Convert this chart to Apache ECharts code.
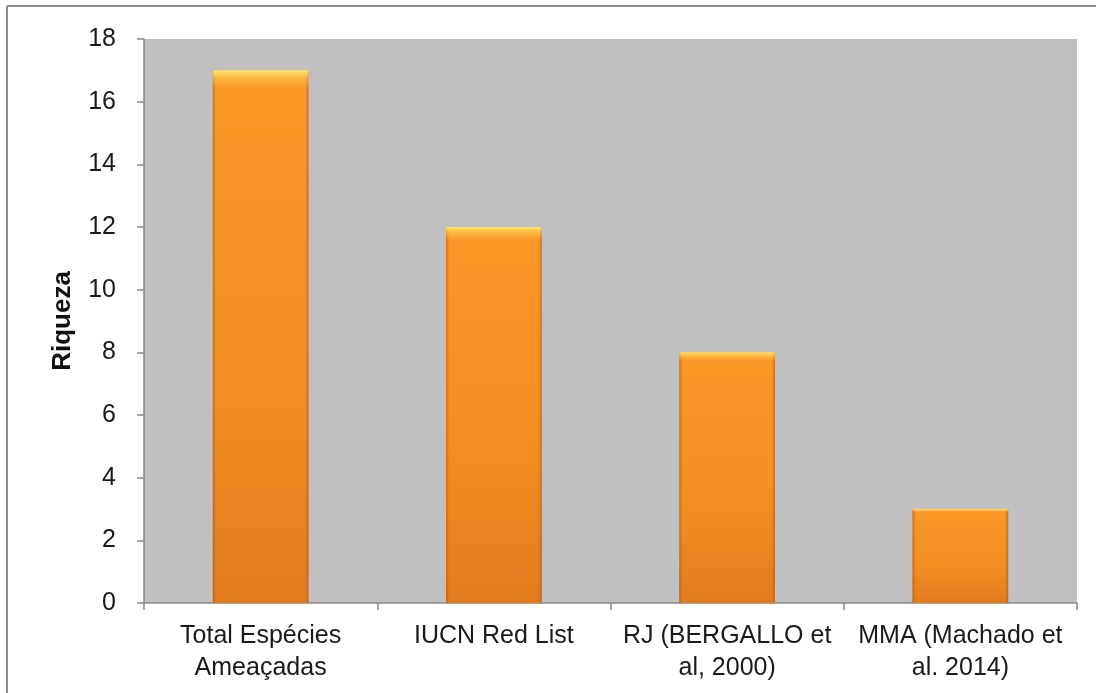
<!DOCTYPE html>
<html>
<head>
<meta charset="utf-8">
<script src="https://cdn.jsdelivr.net/npm/echarts@6/dist/echarts.min.js"></script>
<style>html,body{margin:0;padding:0;background:#fff}#c{width:1096px;height:693px}</style>
</head>
<body>
<div id="c"></div>
<script>
var categories = ['Total Espécies\nAmeaçadas', 'IUCN Red List', 'RJ (BERGALLO et\nal, 2000)', 'MMA (Machado et\nal. 2014)'];
var values = [17, 12, 8, 3];
var yTicks = [0, 2, 4, 6, 8, 10, 12, 14, 16, 18];

var chart = echarts.init(document.getElementById('c'), null, {renderer: 'canvas'});
var font = 'Arial, "Liberation Sans", sans-serif';
var barW = '41%';
chart.setOption({
  animation: false,
  backgroundColor: '#ffffff',
  grid: {left: 144, top: 39, right: 19, bottom: 90, show: true, backgroundColor: '#c0c0c0', borderWidth: 0},
  graphic: [
    {type: 'line', shape: {x1: 7, y1: 6, x2: 1096, y2: 6}, style: {stroke: '#8c8c8c', lineWidth: 2}},
    {type: 'line', shape: {x1: 7, y1: 6, x2: 7, y2: 693}, style: {stroke: '#8c8c8c', lineWidth: 2}}
  ],
  xAxis: {
    type: 'category',
    data: categories,
    axisLine: {lineStyle: {color: '#8a8a8a', width: 1.5}},
    axisTick: {show: true, length: 7, alignWithLabel: false, lineStyle: {color: '#8a8a8a', width: 1.5}},
    axisLabel: {color: '#1a1a1a', fontFamily: font, fontSize: 25, lineHeight: 32, margin: 17, interval: 0}
  },
  yAxis: {
    type: 'value',
    min: yTicks[0],
    max: yTicks[yTicks.length - 1],
    interval: 2,
    name: 'Riqueza',
    nameLocation: 'middle',
    nameGap: 68,
    nameTextStyle: {color: '#111', fontFamily: font, fontSize: 26, fontWeight: 'bold'},
    axisLine: {show: true, lineStyle: {color: '#8a8a8a', width: 1.5}},
    axisTick: {show: true, length: 7, lineStyle: {color: '#8a8a8a', width: 1.5}},
    axisLabel: {color: '#1a1a1a', fontFamily: font, fontSize: 25, margin: 28},
    splitLine: {show: false}
  },
  series: [{
    type: 'bar',
    data: values,
    barWidth: barW,
    itemStyle: {
      color: new echarts.graphic.LinearGradient(0, 0, 0, 1, [
        {offset: 0, color: '#fa9828'},
        {offset: 0.6, color: '#f48e22'},
        {offset: 1, color: '#e27a1e'}
      ])
    }
  }, {
    type: 'bar',
    data: values,
    barWidth: barW,
    barGap: '-100%',
    silent: true,
    itemStyle: {
      color: new echarts.graphic.LinearGradient(0, 0, 1, 0, [
        {offset: 0, color: 'rgba(170,80,10,0.6)'},
        {offset: 0.035, color: 'rgba(200,100,20,0)'},
        {offset: 0.965, color: 'rgba(200,100,20,0)'},
        {offset: 1, color: 'rgba(170,80,10,0.6)'}
      ])
    }
  }, {
    type: 'bar',
    data: values,
    barWidth: barW,
    barGap: '-100%',
    silent: true,
    itemStyle: {
      color: new echarts.graphic.LinearGradient(0, 0, 0, 1, [
        {offset: 0, color: 'rgba(255,235,120,0.95)'},
        {offset: 0.015, color: 'rgba(255,215,90,0.5)'},
        {offset: 0.035, color: 'rgba(255,200,80,0)'},
        {offset: 1, color: 'rgba(255,200,80,0)'}
      ])
    }
  }]
});
</script>
</body>
</html>
